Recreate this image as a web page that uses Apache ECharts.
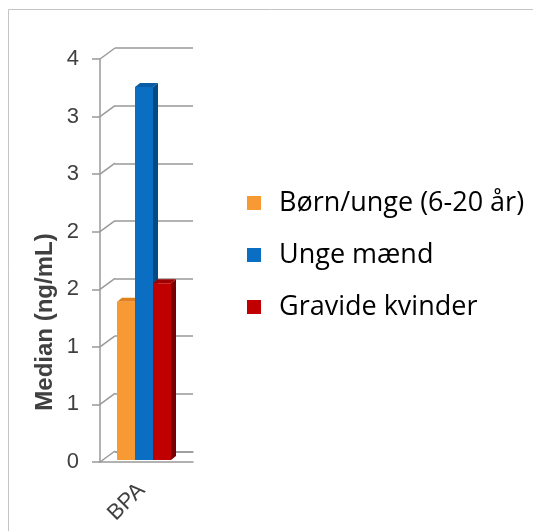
<!DOCTYPE html>
<html>
<head>
<meta charset="utf-8">
<script src="https://cdn.jsdelivr.net/npm/echarts@6/dist/echarts.min.js"></script>
<style>
  html, body { margin: 0; padding: 0; background: #fff; }
  #chart { width: 533px; height: 531px; }
</style>
</head>
<body>
<div id="chart"></div>
<script>
// data
const categories = ['BPA']
const seriesNames = ['Børn/unge (6-20 år)', 'Unge mænd', 'Gravide kvinder']
const boernUnge = [1.375]
const ungeMaend = [3.24]
const gravide = [1.535]
const yTicks = [0, 0.5, 1, 1.5, 2, 2.5, 3, 3.5]

const colors = [
  { front: '#F79A33', side: '#C06A12', top: '#E0801E' },
  { front: '#0A6FC2', side: '#064A82', top: '#0A5CA5' },
  { front: '#C00000', side: '#780000', top: '#A00000' }
]
const barW = 18
const depthX = 5
const depthY = 4
const offsets = [-20.5, -2.5, 15.5]

function bar3d(idx) {
  return function(params, api) {
    const c = colors[idx]
    const base = api.coord([api.value(0), 0])
    const top = api.coord([api.value(0), api.value(1)])
    const x0 = base[0] + offsets[idx] - barW / 2
    const x1 = x0 + barW
    const yb = base[1] - 2
    const yt = top[1] - 2
    return {
      type: 'group',
      children: [
        { type: 'polygon', shape: { points: [[x1, yb], [x1 + depthX, yb - depthY], [x1 + depthX, yt - depthY], [x1, yt]] }, style: { fill: c.side } },
        { type: 'polygon', shape: { points: [[x0, yt], [x0 + depthX, yt - depthY], [x1 + depthX, yt - depthY], [x1, yt]] }, style: { fill: c.top } },
        { type: 'rect', shape: { x: x0, y: yt, width: barW, height: yb - yt }, style: { fill: c.front } }
      ]
    }
  }
}

const chart = echarts.init(document.getElementById('chart'))
const option = {
  animation: false,
  graphic: [
    { type: 'rect', shape: { x: 8.5, y: 9.5, width: 700, height: 700 }, style: { fill: null, stroke: '#c4c4c4', lineWidth: 1 }, silent: true },
    {
      type: 'text', x: 45, y: 322, rotation: Math.PI / 2,
      style: { text: 'Median (ng/mL)', font: 'bold 24px "Liberation Sans", Arial, sans-serif', fill: '#404040', align: 'center', verticalAlign: 'middle' }
    }
  ],
  legend: {
    orient: 'vertical',
    left: 242,
    top: 184,
    icon: 'rect',
    itemWidth: 14,
    itemHeight: 14,
    itemGap: 24,
    data: seriesNames,
    textStyle: { fontFamily: 'Open Sans', fontSize: 27, color: '#000', padding: [0, 0, 0, 13], lineHeight: 28 }
  },
  grid: [
    { left: 100, right: 340, top: 59, bottom: 69 },
    { left: 115, right: 340, top: 48, bottom: 79.5 }
  ],
  xAxis: [
    {
      type: 'category', gridIndex: 0, data: categories,
      axisLine: { show: true, lineStyle: { color: '#999', width: 1.5 } },
      axisTick: { show: false },
      axisLabel: { rotate: 45, margin: 20, padding: [0, 7, 0, 0], fontSize: 22, color: '#404040', fontFamily: '"Liberation Sans", Arial, sans-serif' }
    },
    {
      type: 'category', gridIndex: 1, data: categories,
      axisLine: { show: true, lineStyle: { color: '#999', width: 1.5 } },
      axisTick: { show: false }, axisLabel: { show: false }
    }
  ],
  yAxis: [
    {
      type: 'value', gridIndex: 0, min: 0, max: 3.5, interval: 0.5,
      axisLine: { show: true, lineStyle: { color: '#999', width: 1.5 } },
      axisTick: { show: true, length: 8, lineStyle: { color: '#999', width: 1.5 } },
      splitLine: { show: false },
      axisLabel: { margin: 21, fontSize: 22, color: '#404040', fontFamily: '"Liberation Sans", Arial, sans-serif', formatter: v => String(Math.round(v)) }
    },
    {
      type: 'value', gridIndex: 1, min: 0, max: 3.5, interval: 0.5,
      axisLine: { show: false }, axisTick: { show: false }, axisLabel: { show: false },
      splitLine: { show: true, lineStyle: { color: '#999', width: 1.5 } }
    }
  ],
  series: [
    {
      // diagonal connectors between the axis ticks and the back wall
      type: 'custom', xAxisIndex: 0, yAxisIndex: 0, silent: true,
      data: yTicks.map(v => [0, v]),
      renderItem: function(params, api) {
        const p = api.coord([0, api.value(1)])
        const x = params.coordSys.x
        return { type: 'line', shape: { x1: x, y1: p[1], x2: x + 15, y2: p[1] - 11 }, style: { stroke: '#999', lineWidth: 1.5 } }
      }
    },
    { name: seriesNames[0], type: 'custom', xAxisIndex: 0, yAxisIndex: 0, itemStyle: { color: colors[0].front }, data: boernUnge.map((v, i) => [i, v]), renderItem: bar3d(0) },
    { name: seriesNames[1], type: 'custom', xAxisIndex: 0, yAxisIndex: 0, itemStyle: { color: colors[1].front }, data: ungeMaend.map((v, i) => [i, v]), renderItem: bar3d(1) },
    { name: seriesNames[2], type: 'custom', xAxisIndex: 0, yAxisIndex: 0, itemStyle: { color: colors[2].front }, data: gravide.map((v, i) => [i, v]), renderItem: bar3d(2) }
  ]
}
chart.setOption(option)
</script>
</body>
</html>
